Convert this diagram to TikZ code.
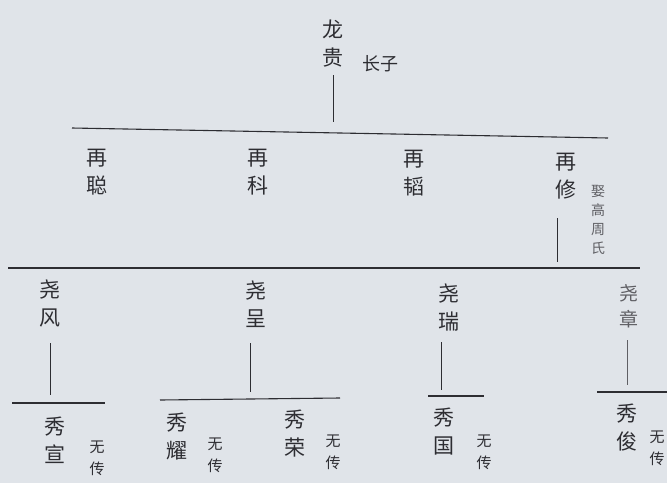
\documentclass[tikz,border=0pt]{standalone}
\usepackage{fontspec}
\newfontfamily\cjk{Noto Sans CJK SC}
\definecolor{paper}{RGB}{224,228,233}
\definecolor{ink}{RGB}{45,45,50}
\definecolor{faint}{RGB}{95,95,100}
\begin{document}
\begin{tikzpicture}[x=1pt,y=-1pt,
  pname/.style={text=ink,font=\cjk\fontsize{21}{28}\selectfont,align=center,inner sep=0pt},
  pnote/.style={text=ink,font=\cjk\fontsize{15}{22}\selectfont,align=center,inner sep=0pt},
  bar/.style={draw=ink,line width=1.1pt},
  stem/.style={draw=ink,line width=0.9pt}]
\fill[paper] (0,0) rectangle (667,483);
\useasboundingbox (0,0) rectangle (667,483);
% generation 1
\node[pname] (lg) at (333,44) {龙\\贵};
\node[pnote,font=\cjk\fontsize{18}{20}\selectfont] (zz) at (380,64) {长子};
\coordinate (lgb) at (333,75);
\coordinate (b1l) at (72,128);
\coordinate (b1r) at (608,138);
\coordinate (b1m) at (333,122);
\draw[stem] (lgb) -- (b1m);
\draw[bar] (b1l) -- (b1r);
% generation 2
\node[pname] (zc) at (97,172) {再\\聪};
\node[pname] (zk) at (258,172) {再\\科};
\node[pname] (zt) at (414,173) {再\\韬};
\node[pname] (zx) at (566,176) {再\\修};
\node[pnote,text=faint,font=\cjk\fontsize{14}{19}\selectfont] (qs) at (598,220) {娶\\高\\周\\氏};
\coordinate (zxb) at (557,218);
\coordinate (zxe) at (557,262);
\draw[stem] (zxb) -- (zxe);
\coordinate (b2l) at (8,268);
\coordinate (b2r) at (640,268);
\draw[bar] (b2l) -- (b2r);
% generation 3
\node[pname] (yf) at (50,304) {尧\\风};
\node[pname] (yc) at (256,304) {尧\\呈};
\node[pname] (yr) at (449,308) {尧\\瑞};
\node[pname,text=faint,font=\cjk\fontsize{19}{26}\selectfont] (yz) at (629,306) {尧\\章};
\coordinate (yf1) at (50,343); \coordinate (yf2) at (50,395);
\coordinate (yc1) at (250,343); \coordinate (yc2) at (250,392);
\coordinate (yr1) at (441,342); \coordinate (yr2) at (441,390);
\coordinate (yz1) at (627,340); \coordinate (yz2) at (627,385);
\draw[stem] (yf1) -- (yf2);
\draw[stem] (yc1) -- (yc2);
\draw[stem] (yr1) -- (yr2);
\draw[stem,draw=faint] (yz1) -- (yz2);
\coordinate (c1l) at (12,403); \coordinate (c1r) at (105,403);
\coordinate (c2l) at (160,400); \coordinate (c2r) at (340,398);
\coordinate (c3l) at (428,396); \coordinate (c3r) at (484,396);
\coordinate (c4l) at (597,392); \coordinate (c4r) at (667,392);
\draw[bar] (c1l) -- (c1r);
\draw[bar] (c2l) -- (c2r);
\draw[bar] (c3l) -- (c3r);
\draw[bar] (c4l) -- (c4r);
% generation 4
\node[pname] (xx) at (55,440) {秀\\宣};
\node[pnote] (w1) at (97,458) {无\\传};
\node[pname] (xy) at (177,437) {秀\\耀};
\node[pnote] (w2) at (215,455) {无\\传};
\node[pname] (xr) at (295,434) {秀\\荣};
\node[pnote] (w3) at (333,452) {无\\传};
\node[pname] (xg) at (444,432) {秀\\国};
\node[pnote] (w4) at (484,452) {无\\传};
\node[pname] (xj) at (627,428) {秀\\俊};
\node[pnote] (w5) at (657,448) {无\\传};
\end{tikzpicture}
\end{document}
